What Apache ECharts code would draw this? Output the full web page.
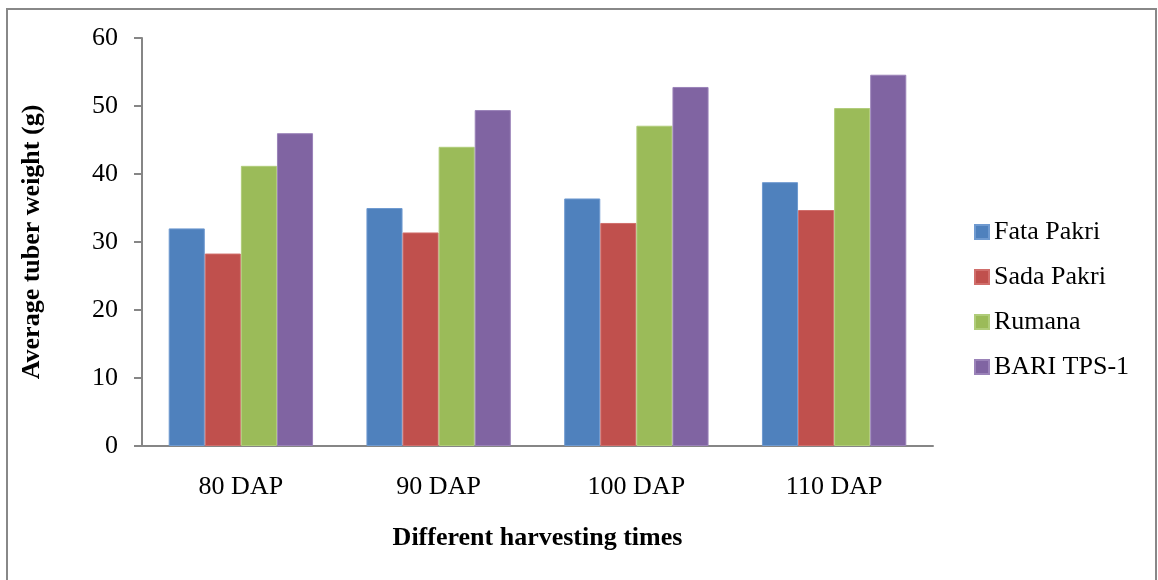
<!DOCTYPE html>
<html>
<head>
<meta charset="utf-8">
<script src="https://cdn.jsdelivr.net/npm/echarts@6/dist/echarts.min.js"></script>
<style>html,body{margin:0;padding:0;background:#fff}#c{width:1158px;height:580px}</style>
</head>
<body>
<div id="c"></div>
<script>
const categories = ['80 DAP', '90 DAP', '100 DAP', '110 DAP'];
const fataPakri = [32.0, 35.0, 36.4, 38.8];
const sadaPakri = [28.3, 31.4, 32.8, 34.7];
const rumana = [41.2, 44.0, 47.1, 49.7];
const bariTps1 = [46.0, 49.4, 52.8, 54.6];
const seriesNames = ['Fata Pakri', 'Sada Pakri', 'Rumana', 'BARI TPS-1'];
const seriesData = [fataPakri, sadaPakri, rumana, bariTps1];
const colors = ['#4F81BD', '#C0504D', '#9BBB59', '#8064A2'];
const borderColors = ['#6F9AD0', '#D06E6B', '#B0CC7A', '#9A82B8'];

const font = '"Liberation Serif", "Times New Roman", serif';
const fs = 26;
const chart = echarts.init(document.getElementById('c'), null, {renderer: 'canvas'});
chart.setOption({
  animation: false,
  backgroundColor: '#fff',
  textStyle: {fontFamily: font},
  graphic: [{
    type: 'rect',
    shape: {x: 7, y: 9, width: 1149, height: 620},
    style: {fill: 'none', stroke: '#888', lineWidth: 2},
    silent: true
  }],
  grid: {left: 142, right: 225, top: 38, bottom: 134},
  legend: {
    orient: 'vertical',
    left: 969,
    top: 214,
    itemWidth: 14,
    itemHeight: 14,
    itemGap: 19,
    icon: 'rect',
    textStyle: {fontFamily: font, fontSize: fs, color: '#000', lineHeight: 26},
    data: seriesNames
  },
  xAxis: {
    type: 'category',
    data: categories,
    name: 'Different harvesting times',
    nameLocation: 'middle',
    nameGap: 79,
    nameTextStyle: {fontFamily: font, fontSize: fs, fontWeight: 'bold', color: '#000'},
    axisLine: {lineStyle: {color: '#868686', width: 2}},
    axisTick: {length: 8, lineStyle: {color: '#868686', width: 2}},
    axisLabel: {fontFamily: font, fontSize: fs, color: '#000', margin: 28}
  },
  yAxis: {
    type: 'value',
    min: 0, max: 60, interval: 10,
    name: 'Average tuber weight (g)',
    nameLocation: 'middle',
    nameGap: 97,
    nameTextStyle: {fontFamily: font, fontSize: fs, fontWeight: 'bold', color: '#000'},
    axisLine: {show: true, lineStyle: {color: '#868686', width: 2}},
    axisTick: {show: true, length: 8, lineStyle: {color: '#868686', width: 2}},
    axisLabel: {fontFamily: font, fontSize: fs, color: '#000', margin: 24},
    splitLine: {show: false}
  },
  series: seriesNames.map((n, i) => ({
    name: n,
    type: 'bar',
    data: seriesData[i],
    barGap: '0%',
    barCategoryGap: '27%',
    itemStyle: {color: colors[i], borderColor: borderColors[i], borderWidth: 1}
  }))
});
</script>
</body>
</html>
